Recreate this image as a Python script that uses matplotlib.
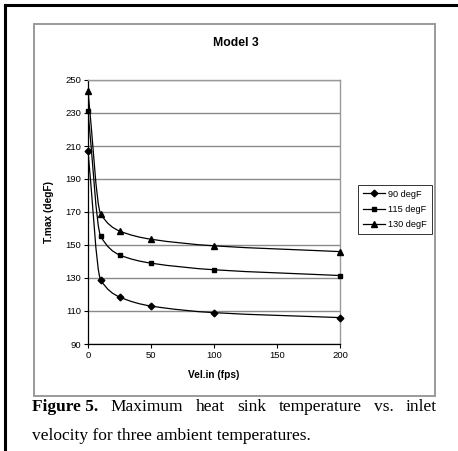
import numpy as np
import matplotlib
matplotlib.use("Agg")
import matplotlib.pyplot as plt
from matplotlib.path import Path
from matplotlib.patches import PathPatch, Rectangle
from matplotlib.lines import Line2D

# data
vel_in = [0, 10, 25, 50, 100, 200]
t_90 = [207, 129, 118.5, 113, 109, 106]
t_115 = [231, 155.5, 144, 139, 135, 131.5]
t_130 = [243.5, 169, 158.5, 153.5, 149.5, 146]
series_labels = ["90 degF", "115 degF", "130 degF"]
series_markers = ["D", "s", "^"]
y_ticks = [90, 110, 130, 150, 170, 190, 210, 230, 250]
x_ticks = [0, 50, 100, 150, 200]

plt.rcParams["font.family"] = ["Liberation Sans", "DejaVu Sans"]

W, H = 458, 451
fig = plt.figure(figsize=(W / 100, H / 100), dpi=100)


def fx(px):
    return px / W


def fy(py):
    return 1 - py / H


# outer page border (top and left only) and grey chart frame
fig.add_artist(Line2D([fx(5), 1], [fy(5), fy(5)], color="black", lw=2.2))
fig.add_artist(Line2D([fx(5), fx(5)], [fy(5), 0], color="black", lw=2.2))
fig.add_artist(Rectangle((fx(34), fy(396)), fx(435) - fx(34), fy(24) - fy(396),
                         fill=False, ec="#9a9a9a", lw=1.4))

ax = fig.add_axes([fx(88), fy(344), fx(340) - fx(88), fy(80) - fy(344)])


def smooth_path(x, y):
    # smoothed line: monotone cubic segments drawn as bezier curves
    x = np.asarray(x, float)
    y = np.asarray(y, float)
    n = len(x)
    d = np.diff(y) / np.diff(x)
    m = np.empty(n)
    m[0], m[-1] = d[0], d[-1]
    for i in range(1, n - 1):
        if d[i - 1] * d[i] > 0:
            m[i] = 2 * d[i - 1] * d[i] / (d[i - 1] + d[i])
        else:
            m[i] = 0
    verts = [(x[0], y[0])]
    codes = [Path.MOVETO]
    for i in range(n - 1):
        h = (x[i + 1] - x[i]) / 3
        verts += [(x[i] + h, y[i] + m[i] * h),
                  (x[i + 1] - h, y[i + 1] - m[i + 1] * h),
                  (x[i + 1], y[i + 1])]
        codes += [Path.CURVE4] * 3
    return Path(verts, codes)


handles = []
for ys, lab, mk in zip([t_90, t_115, t_130], series_labels, series_markers):
    ax.add_patch(PathPatch(smooth_path(vel_in, ys), fill=False, ec="black", lw=0.9, zorder=3))
    ms = 4.2 if mk == "^" else 3.4
    ax.plot(vel_in, ys, linestyle="none", marker=mk, color="black", ms=ms, zorder=4, clip_on=False)
    handles.append(Line2D([], [], color="black", lw=0.9, marker=mk, ms=ms, label=lab))

ax.set_xlim(0, 200)
ax.set_ylim(90, 250)
ax.set_xticks(x_ticks)
ax.set_yticks(y_ticks)
ax.tick_params(labelsize=6.8, length=3, width=0.8, pad=2, direction="out")
ax.yaxis.grid(True, color="#8a8a8a", lw=1.0)
ax.set_axisbelow(True)
for side in ["top", "right"]:
    ax.spines[side].set_color("#9a9a9a")
    ax.spines[side].set_linewidth(1.0)
for side in ["left", "bottom"]:
    ax.spines[side].set_linewidth(0.9)

ax.set_xlabel("Vel.in (fps)", fontsize=7.3, fontweight="bold", labelpad=7)
ax.set_ylabel("T.max (degF)", fontsize=7.3, fontweight="bold", labelpad=8)
fig.text(fx(236), fy(43), "Model 3", fontsize=8.8, fontweight="bold", ha="center", va="center")

leg = ax.legend(handles=handles, loc="upper left", bbox_to_anchor=(fx(358), fy(185)),
                bbox_transform=fig.transFigure, fontsize=6.6, frameon=True, fancybox=False,
                handlelength=2.4, handletextpad=0.4, borderpad=0.5, labelspacing=0.7,
                borderaxespad=0)
leg.get_frame().set_edgecolor("black")
leg.get_frame().set_linewidth(0.7)

# caption, first line justified
serif = ["Liberation Serif", "DejaVu Serif"]
cap_size = 12.5
x_left, x_right = fx(32), fx(437)
line1 = ["Maximum", "heat", "sink", "temperature", "vs.", "inlet"]
fig.canvas.draw()
r = fig.canvas.get_renderer()
t0 = fig.text(x_left, fy(411), "Figure 5.", family=serif, fontsize=cap_size,
              fontweight="bold", va="baseline")
words = [fig.text(0, fy(411), w, family=serif, fontsize=cap_size, va="baseline") for w in line1]
w0 = t0.get_window_extent(r).width / W
ws = [t.get_window_extent(r).width / W for t in words]
gap = (x_right - x_left - w0 - sum(ws)) / len(words)
pos = x_left + w0 + gap
for t, w in zip(words, ws):
    t.set_x(pos)
    pos += w + gap
fig.text(x_left, fy(440), "velocity for three ambient temperatures.", family=serif,
         fontsize=cap_size, va="baseline")

fig.savefig("out.png", dpi=100)
